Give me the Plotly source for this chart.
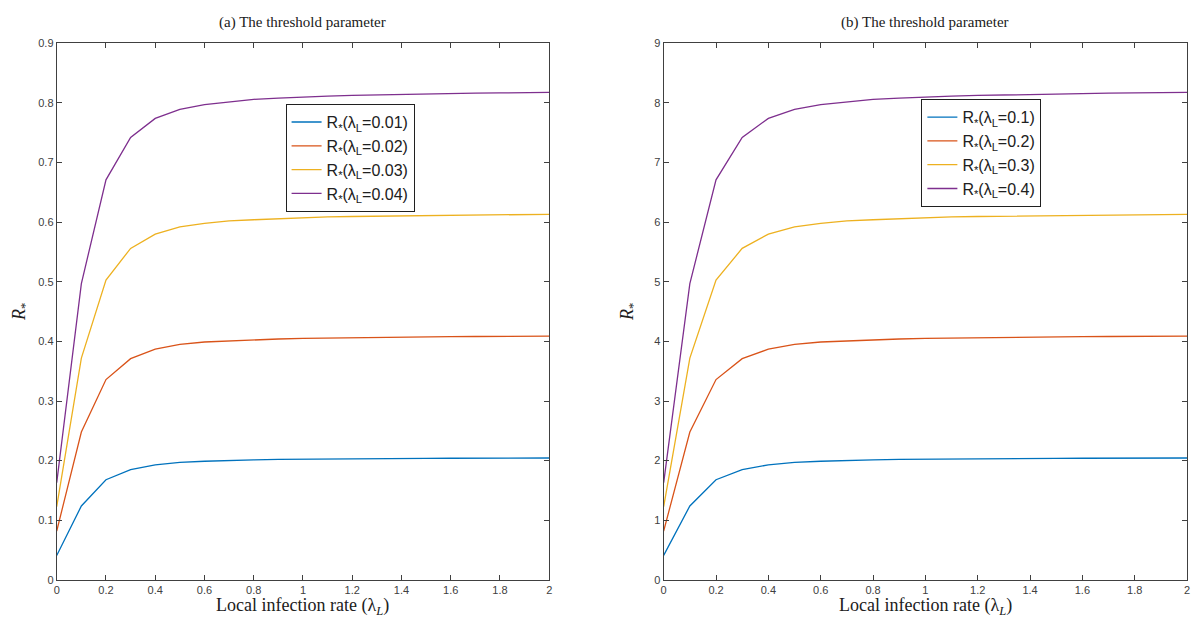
import plotly.graph_objects as go

# Local infection rate grid
x_rate = [0.0, 0.1, 0.2, 0.3, 0.4, 0.5, 0.6, 0.7, 0.8, 0.9, 1.0,
          1.1, 1.2, 1.3, 1.4, 1.5, 1.6, 1.7, 1.8, 1.9, 2.0]

# Panel (a): threshold parameter R* for small lambda_L
a_labels = ["0.01", "0.02", "0.03", "0.04"]
a_001 = [0.041, 0.124, 0.168, 0.185, 0.193, 0.197, 0.199, 0.2005, 0.2013, 0.202, 0.2025,
         0.2028, 0.2031, 0.2034, 0.2036, 0.2038, 0.204, 0.2041, 0.2042, 0.2043, 0.2044]
a_002 = [0.082, 0.248, 0.336, 0.371, 0.387, 0.395, 0.399, 0.401, 0.403, 0.404, 0.405,
         0.4057, 0.4063, 0.4068, 0.4072, 0.4076, 0.408, 0.4082, 0.4084, 0.4086, 0.4088]
a_003 = [0.123, 0.372, 0.503, 0.556, 0.580, 0.592, 0.598, 0.602, 0.604, 0.606, 0.608,
         0.609, 0.6095, 0.610, 0.611, 0.6115, 0.612, 0.6123, 0.6126, 0.6129, 0.6132]
a_004 = [0.163, 0.497, 0.671, 0.742, 0.774, 0.789, 0.797, 0.802, 0.806, 0.808, 0.810,
         0.8115, 0.8125, 0.8135, 0.8145, 0.815, 0.8157, 0.8163, 0.8168, 0.8172, 0.8176]

# Panel (b): threshold parameter R* for larger lambda_L
b_labels = ["0.1", "0.2", "0.3", "0.4"]
b_01 = [0.41, 1.24, 1.68, 1.85, 1.93, 1.97, 1.99, 2.005, 2.013, 2.02, 2.025,
        2.028, 2.031, 2.034, 2.036, 2.038, 2.04, 2.041, 2.042, 2.043, 2.044]
b_02 = [0.82, 2.48, 3.36, 3.71, 3.87, 3.95, 3.99, 4.01, 4.03, 4.04, 4.05,
        4.057, 4.063, 4.068, 4.072, 4.076, 4.08, 4.082, 4.084, 4.086, 4.088]
b_03 = [1.23, 3.72, 5.03, 5.56, 5.80, 5.92, 5.98, 6.02, 6.04, 6.06, 6.08,
        6.09, 6.095, 6.10, 6.11, 6.115, 6.12, 6.123, 6.126, 6.129, 6.132]
b_04 = [1.63, 4.97, 6.71, 7.42, 7.74, 7.89, 7.97, 8.02, 8.06, 8.08, 8.10,
        8.115, 8.125, 8.135, 8.145, 8.15, 8.157, 8.163, 8.168, 8.172, 8.176]

colors = ["#0072BD", "#D95319", "#EDB120", "#7E2F8E"]

fig = go.Figure()

for ys, lab, col in zip([a_001, a_002, a_003, a_004], a_labels, colors):
    fig.add_trace(go.Scatter(
        x=x_rate, y=ys, mode="lines", xaxis="x", yaxis="y", legend="legend",
        name=f"R<sub>*</sub>(λ<sub>L</sub>={lab})",
        line=dict(color=col, width=1.3)))

for ys, lab, col in zip([b_01, b_02, b_03, b_04], b_labels, colors):
    fig.add_trace(go.Scatter(
        x=x_rate, y=ys, mode="lines", xaxis="x2", yaxis="y2", legend="legend2",
        name=f"R<sub>*</sub>(λ<sub>L</sub>={lab})",
        line=dict(color=col, width=1.3)))

W, H = 1199, 631
axis_line = "#404040"
tick_font = dict(family="Liberation Sans, Arial, sans-serif", size=11, color="#404040")


def px_x(p):
    return p / W


def px_y(p):
    return 1 - p / H


common_x = dict(range=[0, 2], dtick=0.2, tick0=0, showline=True, linecolor=axis_line,
                linewidth=1, mirror="ticks", ticks="inside", ticklen=5, tickcolor=axis_line,
                showgrid=False, zeroline=False, tickfont=tick_font)
common_y = dict(showline=True, linecolor=axis_line, linewidth=1, mirror="ticks",
                ticks="inside", ticklen=5, tickcolor=axis_line, showgrid=False,
                zeroline=False, tickfont=tick_font)

y_top, y_bot = px_y(38), px_y(585)
legend_font = dict(family="Liberation Sans, Arial, sans-serif", size=16, color="#202020")

fig.update_layout(
    width=W, height=H,
    margin=dict(l=0, r=0, t=0, b=0),
    paper_bgcolor="white", plot_bgcolor="white",
    xaxis=dict(common_x, domain=[px_x(54), px_x(549)], anchor="y"),
    yaxis=dict(common_y, domain=[y_bot, y_top], range=[0, 0.9], dtick=0.1, anchor="x"),
    xaxis2=dict(common_x, domain=[px_x(664), px_x(1190)], anchor="y2"),
    yaxis2=dict(common_y, domain=[y_bot, y_top], range=[0, 9], dtick=1, anchor="x2"),
    legend=dict(x=px_x(284), y=px_y(100), xanchor="left", yanchor="top",
                bgcolor="white", bordercolor="#202020", borderwidth=1,
                font=legend_font, tracegroupgap=0),
    legend2=dict(x=px_x(923), y=px_y(95), xanchor="left", yanchor="top",
                 bgcolor="white", bordercolor="#202020", borderwidth=1,
                 font=legend_font, tracegroupgap=0),
    showlegend=True,
)

serif = "Liberation Serif, DejaVu Serif, serif"
ann = [
    dict(text="(a) The threshold parameter", x=px_x(301), y=px_y(17), size=15),
    dict(text="(b) The threshold parameter", x=px_x(927), y=px_y(17), size=15),
    dict(text="Local infection rate (λ<sub><i>L</i></sub>)", x=px_x(301), y=px_y(612), size=18),
    dict(text="Local infection rate (λ<sub><i>L</i></sub>)", x=px_x(927), y=px_y(612), size=18),
]
for a in ann:
    fig.add_annotation(text=a["text"], x=a["x"], y=a["y"], xref="paper", yref="paper",
                       showarrow=False, xanchor="center", yanchor="middle",
                       font=dict(family=serif, size=a["size"], color="#202020"))

for xp in (17, 628):
    fig.add_annotation(text="<i>R</i><sub>*</sub>", x=px_x(xp), y=px_y(312), xref="paper",
                       yref="paper", showarrow=False, textangle=-90,
                       xanchor="center", yanchor="middle",
                       font=dict(family=serif, size=18, color="#202020"))

fig.write_html("out.html")
